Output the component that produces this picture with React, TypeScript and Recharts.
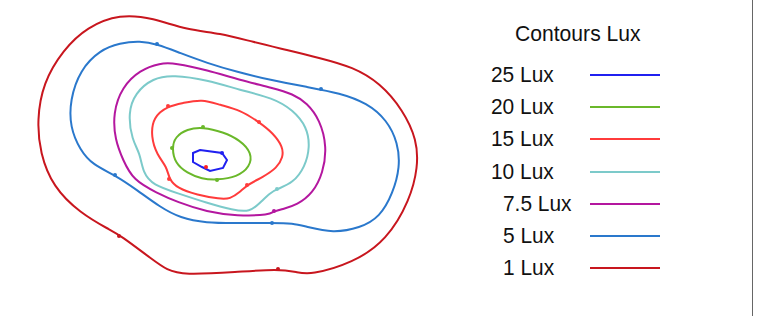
import { Legend, Scatter, ScatterChart, XAxis, YAxis } from "recharts";

// Floor plan coordinates (x, y) of each iso-lux contour
const LUX_1 = [
  [12.0, 30.2], [15.3, 29.8], [18.7, 28.6], [22.0, 28.3], [25.3, 27.4], [28.7, 26.6],
  [32.0, 25.8], [35.3, 24.9], [38.0, 23.3], [40.3, 20.6], [41.7, 17.6], [41.8, 14.9],
  [41.0, 11.6], [38.7, 7.6], [35.3, 5.3], [31.0, 4.1], [29.7, 4.4], [27.8, 4.7],
  [23.7, 4.4], [18.3, 4.1], [16.7, 4.6], [15.3, 5.6], [12.0, 8.1], [11.0, 8.6],
  [8.0, 10.3], [5.3, 12.9], [4.0, 16.3], [3.7, 19.6], [4.3, 23.3], [6.3, 26.6],
  [8.7, 28.9],
];
const LUX_5 = [
  [14.0, 27.5], [15.7, 27.2], [18.0, 26.3], [20.7, 25.3], [23.7, 24.4], [27.0, 23.6],
  [30.7, 22.9], [34.0, 22.3], [36.7, 21.3], [38.7, 19.6], [39.8, 17.3], [40.0, 14.9],
  [39.3, 12.3], [38.0, 9.9], [36.0, 8.8], [33.3, 8.3], [30.7, 8.9], [29.3, 9.3],
  [27.2, 9.3], [23.3, 9.3], [20.7, 9.3], [18.0, 9.8], [16.0, 10.9], [13.7, 12.6],
  [11.5, 14.1], [9.3, 15.1], [8.0, 16.6], [7.0, 18.9], [7.0, 21.6], [8.0, 24.6],
  [10.0, 26.6], [12.0, 27.3],
];
const LUX_7_5 = [
  [17.5, 25.3], [20.7, 24.6], [24.0, 23.6], [27.3, 22.8], [29.3, 22.2], [30.7, 21.3],
  [32.0, 19.6], [32.7, 16.9], [32.3, 14.3], [31.3, 12.3], [29.7, 11.1], [28.3, 10.7],
  [27.4, 10.5], [27.0, 10.1], [23.7, 10.0], [20.7, 10.4], [17.7, 11.4], [15.7, 12.3],
  [13.3, 13.6], [12.3, 15.6], [11.5, 17.6], [11.3, 20.3], [12.2, 22.9], [14.0, 24.6],
  [16.0, 25.3],
];
const LUX_10 = [
  [17.3, 24.1], [20.7, 23.6], [24.0, 22.6], [27.3, 21.8], [29.3, 20.6], [30.7, 18.9],
  [31.0, 16.9], [30.5, 14.9], [29.3, 13.3], [27.7, 12.7], [27.0, 12.3], [26.0, 11.3],
  [25.0, 10.4], [23.3, 10.6], [20.7, 11.3], [17.7, 12.3], [15.3, 13.1], [14.3, 14.3],
  [14.0, 16.3], [13.2, 17.6], [12.8, 20.3], [13.5, 22.3], [15.3, 23.8],
];
const LUX_15 = [
  [20.2, 21.7], [22.0, 21.1], [24.0, 20.6], [25.9, 19.4], [27.3, 18.3], [28.3, 16.9],
  [28.3, 15.9], [27.7, 14.8], [26.3, 13.9], [24.7, 13.1], [24.0, 12.4], [23.0, 11.7],
  [22.0, 11.7], [19.7, 12.1], [17.7, 12.8], [16.9, 13.7], [16.7, 14.9], [15.7, 16.1],
  [15.1, 17.9], [15.3, 19.9], [16.8, 21.0], [18.3, 21.3],
];
const LUX_20 = [
  [20.3, 18.9], [22.3, 18.4], [24.0, 17.6], [25.2, 16.3], [25.0, 14.9], [23.7, 13.9],
  [21.7, 13.6], [20.2, 13.7], [18.7, 14.3], [17.5, 15.3], [17.2, 16.8], [17.5, 17.9],
  [18.7, 18.7],
];
const LUX_25 = [
  [20.0, 16.6], [22.2, 16.3], [22.7, 15.6], [22.3, 14.8], [21.0, 14.5], [20.2, 14.9],
  [19.3, 15.4], [19.3, 16.3],
];

// small label markers sitting on the contours
const MARKS_1 = [[11.9, 8.0], [27.8, 4.7]];
const MARKS_5 = [[15.7, 27.2], [32.1, 22.7], [11.5, 14.1], [27.2, 9.3]];
const MARKS_7_5 = [[27.4, 10.5]];
const MARKS_10 = [[27.7, 12.7]];
const MARKS_15 = [[16.8, 21.0], [25.9, 19.4], [16.9, 13.7], [24.7, 13.1]];
const MARKS_20 = [[20.3, 18.9], [21.7, 13.6], [17.2, 16.8]];
const MARKS_25 = [[22.2, 16.3]];
const PEAK = [[20.6, 14.9]];

const LEVEL_LABELS = ["25 Lux", "20 Lux", "15 Lux", "10 Lux", "7.5 Lux", "5 Lux", "1 Lux"];
const LEVEL_COLORS = ["#2020f0", "#6ab82a", "#ff3b3b", "#7ccaca", "#b4179f", "#2a78cc", "#c8161e"];
const LEVEL_CONTOURS = [LUX_25, LUX_20, LUX_15, LUX_10, LUX_7_5, LUX_5, LUX_1];
const LEVEL_MARKS = [MARKS_25, MARKS_20, MARKS_15, MARKS_10, MARKS_7_5, MARKS_5, MARKS_1];
// smallest contour stays a polyline, the rest get smoothed
const LEVEL_CURVES = ["linearClosed", "basisClosed", "basisClosed", "basisClosed", "basisClosed", "basisClosed", "basisClosed"];

const toPoints = (arr: number[][]) => arr.map(([x, y]) => ({ x, y }));

const FONT = '"Liberation Sans", Arial, sans-serif';
const LABEL_INDENT = [0, 0, 0, 0, 12, 12, 12];

const NoShape = () => <g />;
const MarkDot = (p: any) => <circle cx={p.cx} cy={p.cy} r={2} fill={p.fill} />;

const renderLegend = () => (
  <div style={{ position: "relative", width: 240, height: 300, fontFamily: FONT, color: "#111" }}>
    <div
      style={{
        position: "absolute",
        left: 35,
        top: 21,
        fontSize: 22,
        lineHeight: "26px",
        whiteSpace: "nowrap",
        transform: "scaleX(0.96)",
        transformOrigin: "left",
      }}
    >
      Contours Lux
    </div>
    {LEVEL_LABELS.map((label, i) => (
      <div key={label}>
        <div
          style={{
            position: "absolute",
            left: 11 + LABEL_INDENT[i],
            top: 62 + i * 32.2,
            fontSize: 22,
            lineHeight: "26px",
            whiteSpace: "nowrap",
            transform: "scaleX(0.95)",
            transformOrigin: "left",
          }}
        >
          {label}
        </div>
        <div
          style={{
            position: "absolute",
            left: 110,
            top: 74 + i * 32.2,
            width: 70,
            height: 2,
            background: LEVEL_COLORS[i],
          }}
        />
      </div>
    ))}
  </div>
);

export default function App() {
  return (
    <div style={{ position: "absolute", left: 0, top: 0, width: 764, height: 316, background: "#fff" }}>
      <div style={{ position: "absolute", left: 752, top: 0, width: 1, height: 316, background: "#666" }} />
      <ScatterChart width={764} height={316} margin={{ top: 0, right: 0, bottom: 0, left: 0 }}>
        <XAxis type="number" dataKey="x" domain={[0, 76.4]} hide />
        <YAxis type="number" dataKey="y" domain={[0, 31.6]} hide />
        {LEVEL_CONTOURS.map((c, i) => (
          <Scatter
            key={`c-${i}`}
            name={LEVEL_LABELS[i]}
            data={toPoints(c)}
            fill={LEVEL_COLORS[i]}
            line={{ stroke: LEVEL_COLORS[i], strokeWidth: 2 }}
            lineJointType={LEVEL_CURVES[i] as any}
            shape={NoShape}
            isAnimationActive={false}
          />
        ))}
        {LEVEL_MARKS.map((m, i) => (
          <Scatter
            key={`m-${i}`}
            data={toPoints(m)}
            fill={LEVEL_COLORS[i]}
            shape={MarkDot}
            legendType="none"
            isAnimationActive={false}
          />
        ))}
        <Scatter data={toPoints(PEAK)} fill="#ff2020" shape={MarkDot} legendType="none" isAnimationActive={false} />
        <Legend
          layout="vertical"
          align="center"
          verticalAlign="middle"
          content={renderLegend}
          wrapperStyle={{ left: 480, top: 0, width: 240, height: 300 }}
        />
      </ScatterChart>
    </div>
  );
}
